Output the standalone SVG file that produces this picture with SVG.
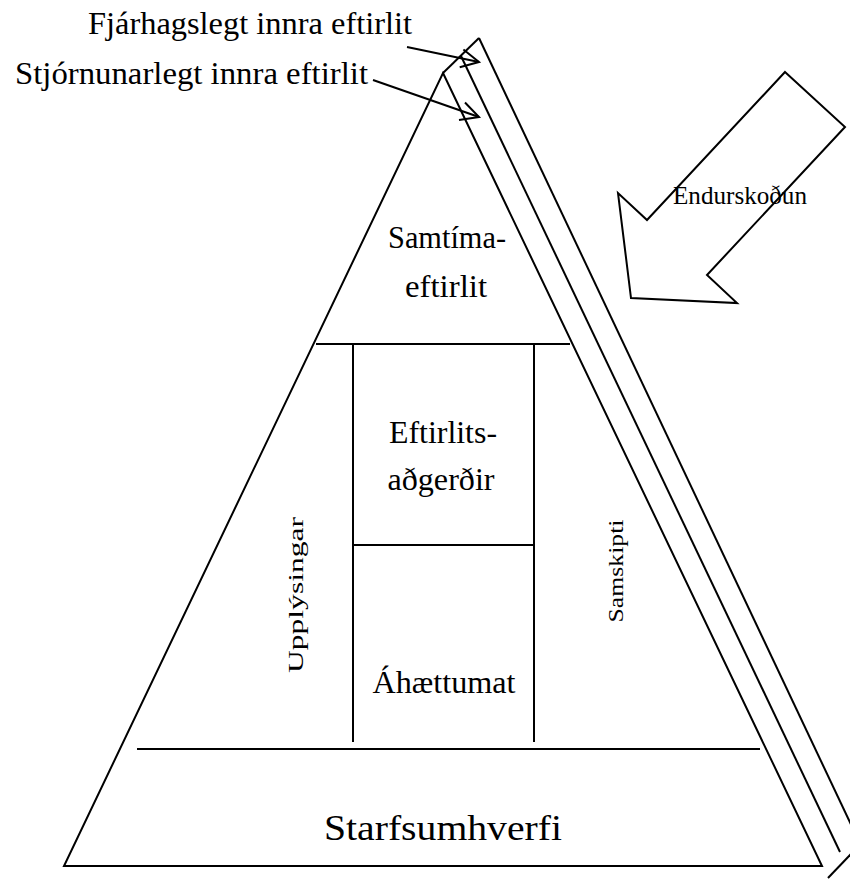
<svg xmlns="http://www.w3.org/2000/svg" width="850" height="880" viewBox="0 0 850 880" font-family="'Liberation Serif', Tinos, 'DejaVu Serif', serif">
<style>
.ln{stroke:#000;stroke-width:2;fill:none;stroke-linecap:butt;stroke-linejoin:miter}
text{font-family:'Liberation Serif', Tinos, 'DejaVu Serif', serif;fill:#000}
.big{font-size:32px;text-anchor:middle}
.side{font-size:22px;text-anchor:middle}
</style>
<rect width="850" height="880" fill="#fff"/>
<g id="pyramid">
<polygon class="ln" points="443,73 822,866 64,866"/>
</g>
<g id="band">
<polyline class="ln" points="443,73 479,38"/>
<line class="ln" x1="461" y1="56" x2="840" y2="852"/>
<line class="ln" x1="479" y1="38" x2="864" y2="852"/>
<line class="ln" x1="828" y1="878" x2="872" y2="832"/>
</g>
<g id="dividers">
<line class="ln" x1="316" y1="344" x2="570" y2="344"/>
<line class="ln" x1="353" y1="344" x2="353" y2="742"/>
<line class="ln" x1="534" y1="344" x2="534" y2="742"/>
<line class="ln" x1="353" y1="545" x2="534" y2="545"/>
<line class="ln" x1="137" y1="749" x2="760" y2="749"/>
</g>
<g id="samtima"><text class="big" x="447" y="248" textLength="118" lengthAdjust="spacingAndGlyphs">Samtíma-</text><text class="big" x="446" y="297" textLength="82" lengthAdjust="spacingAndGlyphs">eftirlit</text></g>
<g id="eftirlitsadgerdir"><text class="big" x="443" y="443" textLength="108" lengthAdjust="spacingAndGlyphs">Eftirlits-</text><text class="big" x="441" y="490" textLength="107" lengthAdjust="spacingAndGlyphs">aðgerðir</text></g>
<g id="ahaettumat"><text class="big" x="444" y="693" textLength="143" lengthAdjust="spacingAndGlyphs">Áhættumat</text></g>
<g id="starfsumhverfi"><text class="big" x="443" y="840" font-size="36" style="font-size:36px" textLength="238" lengthAdjust="spacingAndGlyphs">Starfsumhverfi</text></g>
<g id="upplysingar"><text class="side" transform="translate(303,595) rotate(-90)" x="0" y="0" textLength="156" lengthAdjust="spacingAndGlyphs">Upplýsingar</text></g>
<g id="samskipti"><text class="side" transform="translate(623,571) rotate(-90)" x="0" y="0" textLength="103" lengthAdjust="spacingAndGlyphs">Samskipti</text></g>
<g id="endurskodun">
<polygon class="ln" style="fill:#fff" points="785,72 845,127 707,275 737,303 631,298 618,193 647,220"/>
<text x="673" y="204" font-size="25" textLength="134" lengthAdjust="spacingAndGlyphs">Endurskoðun</text>
</g>
<g id="label-fjarhags"><text x="88" y="34" font-size="31" textLength="324" lengthAdjust="spacingAndGlyphs">Fjárhagslegt innra eftirlit</text></g>
<g id="label-stjornunar"><text x="15" y="84" font-size="31" textLength="353" lengthAdjust="spacingAndGlyphs">Stjórnunarlegt innra eftirlit</text></g>
<g id="connectors">
<line class="ln" x1="407" y1="47" x2="479" y2="62"/>
<polyline class="ln" points="463.4,49.5 479,62 459.7,67.2"/>
<line class="ln" x1="373" y1="80" x2="479" y2="117"/>
<polyline class="ln" points="465,102.5 479,117 459,120"/>
</g>
</svg>
